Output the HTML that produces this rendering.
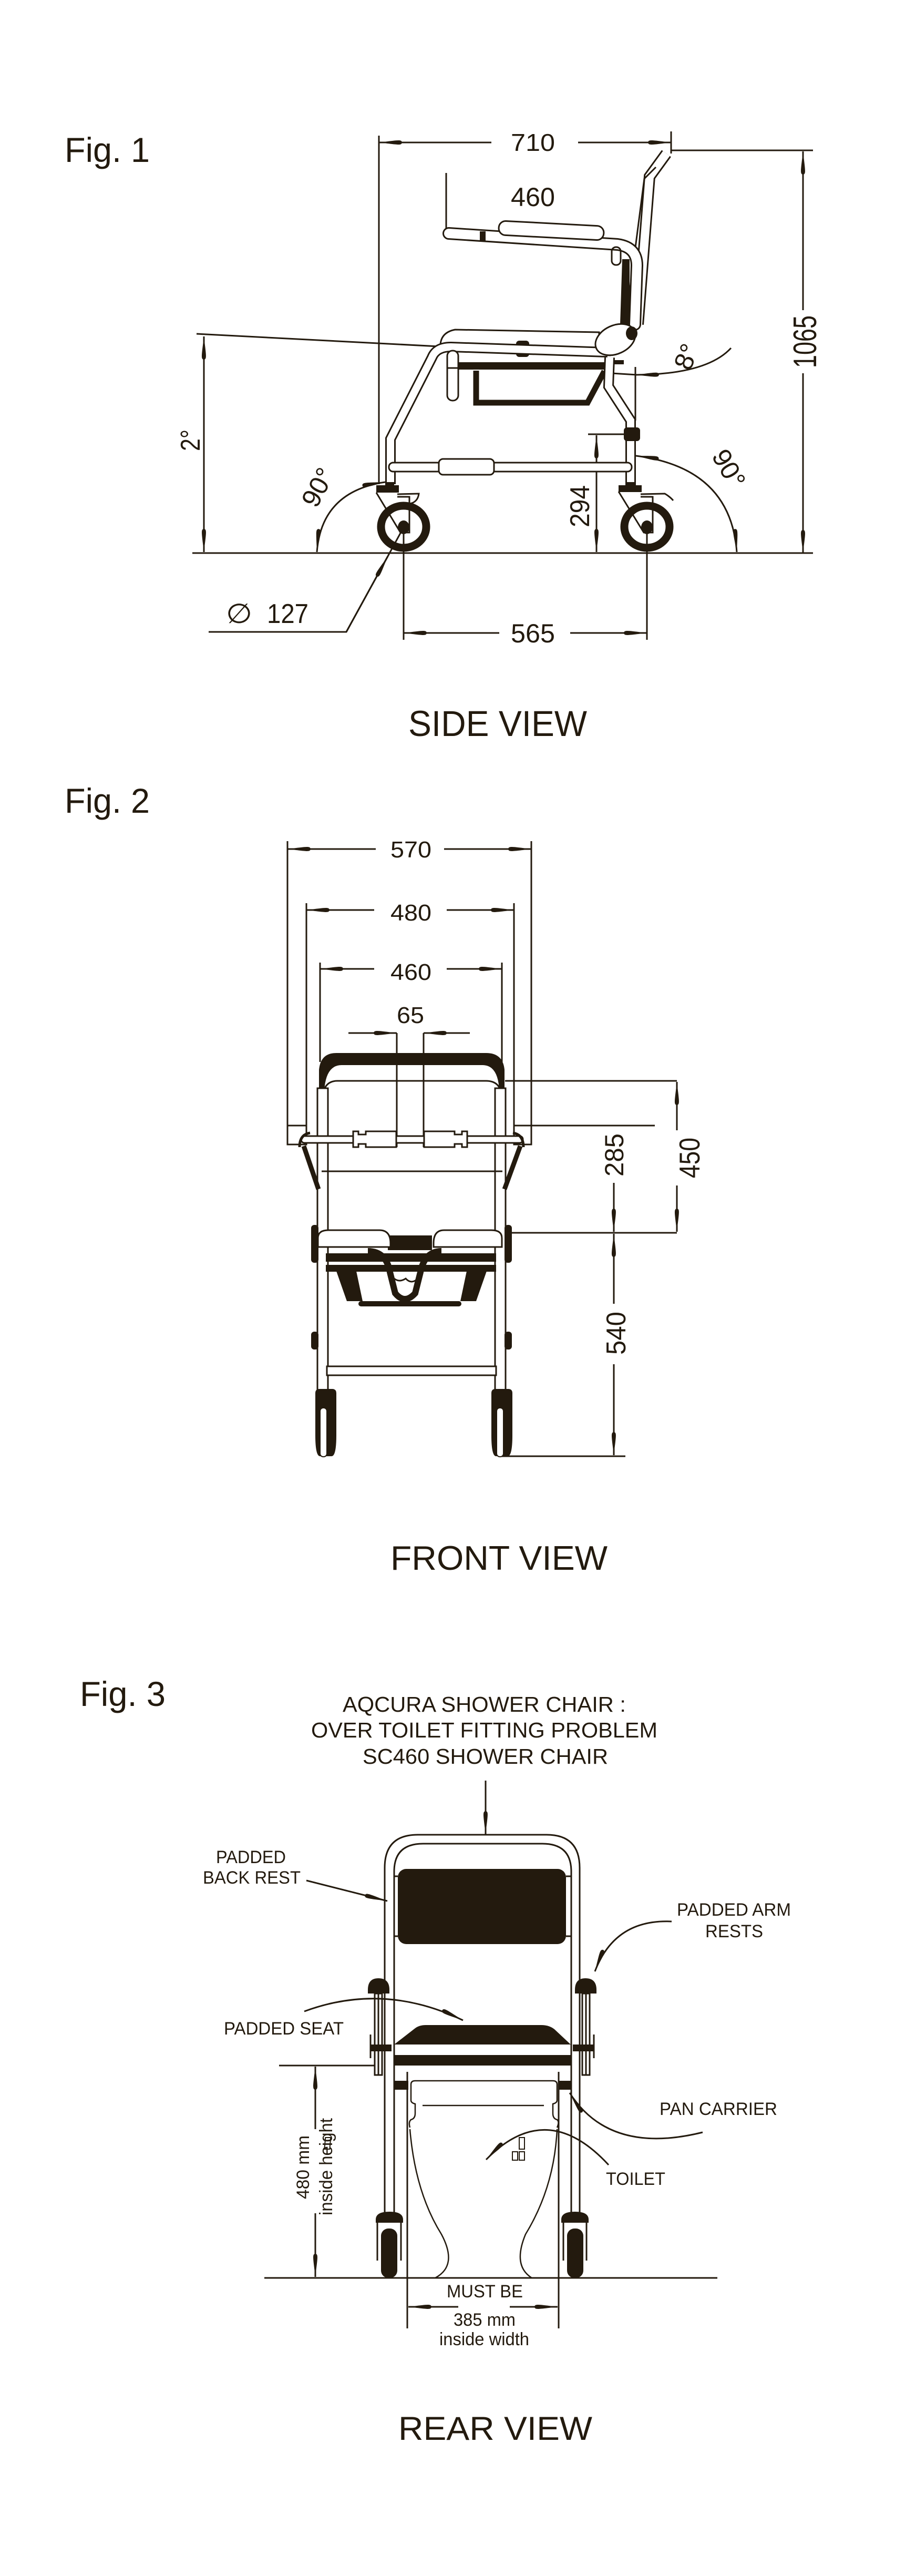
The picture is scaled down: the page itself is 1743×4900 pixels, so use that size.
<!DOCTYPE html>
<html><head><meta charset="utf-8"><style>
html,body{margin:0;padding:0;background:#fff}
svg{display:block}
text{font-family:"Liberation Sans",Arial,sans-serif;fill:#231a0e}
</style></head><body>
<svg width="1743" height="4900" viewBox="0 0 1743 4900" xmlns="http://www.w3.org/2000/svg">
<defs>
<marker id="a" viewBox="0 0 44 12" refX="44" refY="6" markerWidth="44" markerHeight="12" markerUnits="userSpaceOnUse" orient="auto-start-reverse">
<path d="M0,6 C1,0 6,1.5 44,6 C6,10.5 1,12 0,6z" fill="#231a0e"/>
</marker>
</defs>
<g stroke="#231a0e" stroke-width="3" fill="none" stroke-linecap="butt">

<!-- ================= FIG 1 ================= -->
<!-- 710 -->
<line x1="935" y1="271" x2="721" y2="271" marker-end="url(#a)"/>
<line x1="1100" y1="271" x2="1277" y2="271" marker-end="url(#a)"/>
<line x1="721" y1="258" x2="721" y2="921"/>
<line x1="1277" y1="250" x2="1277" y2="292"/>
<!-- 460 ext -->
<line x1="849" y1="329" x2="849" y2="442"/>
<!-- 1065 -->
<line x1="1277" y1="286" x2="1547" y2="286"/>
<line x1="1528" y1="590" x2="1528" y2="288" marker-end="url(#a)"/>
<line x1="1528" y1="710" x2="1528" y2="1052" marker-end="url(#a)"/>
<!-- ground -->
<line x1="366" y1="1052" x2="1547" y2="1052"/>
<!-- 2 deg -->
<line x1="388" y1="840" x2="388" y2="640" marker-end="url(#a)"/>
<line x1="388" y1="840" x2="388" y2="1050" marker-end="url(#a)"/>
<line x1="374" y1="635" x2="1162" y2="676"/>
<!-- 294 -->
<line x1="1119" y1="826" x2="1202" y2="826"/>
<line x1="1135" y1="960" x2="1135" y2="828" marker-end="url(#a)"/>
<line x1="1135" y1="960" x2="1135" y2="1050" marker-end="url(#a)"/>
<!-- 565 -->
<line x1="950" y1="1204" x2="768" y2="1204" marker-end="url(#a)"/>
<line x1="1085" y1="1204" x2="1231" y2="1204" marker-end="url(#a)"/>
<line x1="768" y1="1003" x2="768" y2="1217"/>
<line x1="1231" y1="1003" x2="1231" y2="1217"/>
<!-- dia 127 leader -->
<polyline points="397,1202 659,1202 738,1058"/>
<line x1="659" y1="1202" x2="738" y2="1058" marker-end="url(#a)"/>
<line x1="738" y1="1058" x2="768" y2="1003"/>
<!-- 90 left -->
<path d="M603,1050 Q612,935 733,917" marker-start="url(#a)" marker-end="url(#a)"/>
<!-- 90 right -->
<path d="M1210,867 Q1390,890 1402,1050" marker-start="url(#a)" marker-end="url(#a)"/>
<!-- 8 deg -->
<path d="M1391,662 Q1345,712 1210,713" marker-end="url(#a)"/>
<line x1="1164" y1="710" x2="1212" y2="713"/>
<line x1="1209" y1="698" x2="1209" y2="800"/>

<!-- chair side -->
<!-- backrest tube -->
<path d="M1268,292 L1236,336 L1214,617" stroke-width="22"/>
<path d="M1268,292 L1236,336 L1214,617" stroke="#fff" stroke-width="16"/>
<path d="M1248,318 L1226,340 L1190,617" stroke-width="3"/>
<polygon points="1184,493 1198,493 1198,617 1180,617" fill="#231a0e" stroke="none"/>
<!-- armrest tube -->
<path d="M854,444 L1175,465 Q1212,470 1212,505 L1208,617" stroke-width="24" stroke-linecap="round"/>
<path d="M854,444 L1175,465 Q1212,470 1212,505 L1208,617" stroke="#fff" stroke-width="18" stroke-linecap="round"/>
<rect x="1164" y="470" width="17" height="34" rx="8"/>
<rect x="913" y="440" width="11" height="20" fill="#231a0e" stroke="none"/>
<rect x="949" y="425" width="200" height="27" rx="13" transform="rotate(3 1049 438)" fill="#fff"/>
<!-- seat -->
<path d="M838,655 Q840,632 866,627 L1140,632 L1140,665 L838,655z" fill="#fff"/>
<rect x="982" y="648" width="25" height="31" rx="6" fill="#231a0e" stroke="none"/>
<!-- front leg -->
<path d="M1156,670 L858,660 Q830,660 822,680 L743,835 L743,921" stroke-width="20"/>
<path d="M1156,670 L858,660 Q830,660 822,680 L743,835 L743,921" stroke="#fff" stroke-width="14"/>
<rect x="851" y="667" width="21" height="95" rx="10" fill="#fff"/>
<line x1="851" y1="700" x2="872" y2="700"/>
<!-- pan -->
<rect x="872" y="689" width="284" height="14" fill="#231a0e" stroke="none"/>
<rect x="1154" y="685" width="33" height="8" fill="#231a0e" stroke="none"/>
<path d="M906,705 L906,766 L1118,766 L1150,706" stroke-width="11"/>
<!-- rear leg -->
<path d="M1160,680 L1158,735 L1200,800 L1200,925" stroke-width="20"/>
<path d="M1160,680 L1158,735 L1200,800 L1200,925" stroke="#fff" stroke-width="14"/>
<ellipse cx="1171" cy="646" rx="40" ry="27" transform="rotate(-25 1171 646)" fill="#fff"/>
<ellipse cx="1202" cy="634" rx="11" ry="13" fill="#231a0e" stroke="none"/>
<rect x="1187" y="813" width="31" height="26" rx="6" fill="#231a0e" stroke="none"/>
<!-- crossbar -->
<rect x="740" y="880" width="462" height="17" rx="8" fill="#fff"/>
<rect x="835" y="873" width="105" height="30" rx="8" fill="#fff"/>
<!-- casters -->
<rect x="716" y="923" width="43" height="14" fill="#231a0e" stroke="none"/>
<rect x="733" y="917" width="17" height="6" fill="#231a0e" stroke="none"/>
<rect x="1177" y="923" width="44" height="13" fill="#231a0e" stroke="none"/>
<rect x="1193" y="917" width="17" height="6" fill="#231a0e" stroke="none"/>
<ellipse cx="768" cy="1002" rx="43" ry="40" stroke-width="15"/>
<ellipse cx="1231" cy="1002" rx="43" ry="40" stroke-width="15"/>
<polyline points="716,937 762,1013 779,1013 779,945 756,945"/>
<path d="M756,940 L797,939 Q795,955 780,958"/>
<polyline points="1177,935 1225,1013 1242,1013 1242,945 1219,945"/>
<path d="M1219,940 L1265,939 Q1275,945 1281,952"/>
<ellipse cx="768" cy="1003" rx="11" ry="13" fill="#231a0e" stroke="none"/>
<ellipse cx="1231" cy="1003" rx="11" ry="13" fill="#231a0e" stroke="none"/>

<!-- ================= FIG 2 ================= -->
<line x1="715" y1="1615" x2="547" y2="1615" marker-end="url(#a)"/>
<line x1="845" y1="1615" x2="1011" y2="1615" marker-end="url(#a)"/>
<line x1="712" y1="1731" x2="583" y2="1731" marker-end="url(#a)"/>
<line x1="850" y1="1731" x2="978" y2="1731" marker-end="url(#a)"/>
<line x1="712" y1="1843" x2="609" y2="1843" marker-end="url(#a)"/>
<line x1="850" y1="1843" x2="955" y2="1843" marker-end="url(#a)"/>
<line x1="663" y1="1965" x2="755" y2="1965" marker-end="url(#a)"/>
<line x1="894" y1="1965" x2="806" y2="1965" marker-end="url(#a)"/>
<line x1="547" y1="1600" x2="547" y2="2177"/>
<line x1="1011" y1="1600" x2="1011" y2="2177"/>
<line x1="583" y1="1718" x2="583" y2="2162"/>
<line x1="978" y1="1718" x2="978" y2="2162"/>
<line x1="609" y1="1831" x2="609" y2="2020"/>
<line x1="955" y1="1831" x2="955" y2="2020"/>
<line x1="755" y1="1965" x2="755" y2="2182"/>
<line x1="806" y1="1965" x2="806" y2="2182"/>
<rect x="547" y="2141" width="36" height="36"/>
<rect x="978" y="2141" width="33" height="36"/>
<!-- dims right -->
<line x1="961" y1="2056" x2="1288" y2="2056"/>
<line x1="978" y1="2141" x2="1246" y2="2141"/>
<line x1="961" y1="2345" x2="1288" y2="2345"/>
<line x1="950" y1="2770" x2="1190" y2="2770"/>
<line x1="1288" y1="2150" x2="1288" y2="2058" marker-end="url(#a)"/>
<line x1="1288" y1="2255" x2="1288" y2="2343" marker-end="url(#a)"/>
<line x1="1168" y1="2250" x2="1168" y2="2343" marker-end="url(#a)"/>
<line x1="1168" y1="2480" x2="1168" y2="2347" marker-end="url(#a)"/>
<line x1="1168" y1="2595" x2="1168" y2="2768" marker-end="url(#a)"/>
<!-- backrest arch -->
<path d="M607,2075 L607,2035 Q610,2003 640,2003 L925,2003 Q957,2003 960,2035 L960,2075 L950,2075 Q948,2026 918,2026 L650,2026 Q620,2026 617,2075z" fill="#231a0e" stroke="none"/>
<path d="M614,2085 Q617,2056 642,2056 L925,2056 Q952,2056 955,2085"/>
<!-- legs -->
<rect x="604" y="2070" width="20" height="575" fill="#fff"/>
<rect x="942" y="2070" width="20" height="575" fill="#fff"/>
<line x1="612" y1="2228" x2="956" y2="2228"/>
<!-- arm braces -->
<path d="M578,2180 L606,2262" stroke-width="9"/>
<path d="M990,2180 L960,2262" stroke-width="9"/>
<!-- arm tube -->
<rect x="573" y="2161" width="422" height="13" rx="6" fill="#fff"/>
<path d="M570,2182 Q570,2158 590,2155" stroke-width="5"/>
<path d="M996,2182 Q996,2158 976,2155" stroke-width="5"/>
<path d="M672,2152 h10 v6 h14 v-6 h58 v30 h-58 v-6 h-14 v6 h-10z" fill="#fff"/>
<path d="M889,2152 h-10 v6 h-14 v-6 h-58 v30 h58 v-6 h14 v6 h10z" fill="#fff"/>
<!-- knobs -->
<rect x="592" y="2330" width="14" height="72" rx="6" fill="#231a0e" stroke="none"/>
<rect x="960" y="2330" width="14" height="72" rx="6" fill="#231a0e" stroke="none"/>
<rect x="592" y="2533" width="14" height="34" rx="6" fill="#231a0e" stroke="none"/>
<rect x="960" y="2533" width="14" height="34" rx="6" fill="#231a0e" stroke="none"/>
<!-- seat -->
<rect x="738" y="2350" width="84" height="28" fill="#231a0e" stroke="none"/>
<rect x="620" y="2384" width="324" height="16" fill="#231a0e" stroke="none"/>
<rect x="620" y="2406" width="324" height="13" fill="#231a0e" stroke="none"/>
<path d="M640,2418 L660,2475 L690,2475 L678,2418z" fill="#231a0e" stroke="none"/>
<path d="M926,2418 L906,2475 L876,2475 L888,2418z" fill="#231a0e" stroke="none"/>
<path d="M700,2380 Q735,2380 742,2420 L752,2460 Q770,2482 790,2460 L800,2420 Q808,2380 840,2380" stroke-width="12"/>
<path d="M750,2432 Q760,2440 772,2432 Q783,2444 795,2432"/>
<rect x="682" y="2475" width="196" height="10" rx="5" fill="#231a0e" stroke="none"/>
<path d="M605,2372 L605,2355 Q605,2340 625,2340 L722,2340 Q743,2340 743,2365 L743,2372z" fill="#fff"/>
<path d="M955,2372 L955,2355 Q955,2340 935,2340 L845,2340 Q825,2340 825,2365 L825,2372z" fill="#fff"/>
<!-- crossbar -->
<rect x="622" y="2599" width="322" height="17" fill="#fff"/>
<!-- casters -->
<path d="M600,2642 h32 q8,0 8,8 v80 q0,40 -9,40 h-22 q-9,0 -9,-40 v-80 q0,-8 8,-8z" fill="#231a0e" stroke="none"/>
<path d="M935,2642 h32 q8,0 8,8 v80 q0,40 -9,40 h-22 q-9,0 -9,-40 v-80 q0,-8 8,-8z" fill="#231a0e" stroke="none"/>
<rect x="609" y="2678" width="13" height="93" rx="6" fill="#fff" stroke-width="2"/>
<rect x="945" y="2678" width="13" height="93" rx="6" fill="#fff" stroke-width="2"/>

<!-- ================= FIG 3 ================= -->
<line x1="924" y1="3387" x2="924" y2="3489" marker-end="url(#a)"/>
<!-- frame -->
<path d="M732,4208 L732,3553 Q732,3490 795,3490 L1040,3490 Q1103,3490 1103,3553 L1103,4208"/>
<path d="M750,4208 L750,3560 Q750,3507 805,3507 L1032,3507 Q1087,3507 1087,3560 L1087,4208"/>
<rect x="757" y="3555" width="320" height="143" rx="16" fill="#231a0e" stroke="none"/>
<line x1="750" y1="3569" x2="757" y2="3569"/><line x1="750" y1="3683" x2="757" y2="3683"/>
<line x1="1077" y1="3569" x2="1087" y2="3569"/><line x1="1077" y1="3683" x2="1087" y2="3683"/>
<!-- arm posts -->
<rect x="713" y="3792" width="14" height="155" fill="#fff"/>
<rect x="1108" y="3792" width="14" height="155" fill="#fff"/>
<line x1="720" y1="3792" x2="720" y2="3947"/><line x1="1115" y1="3792" x2="1115" y2="3947"/>
<path d="M700,3792 L700,3785 Q700,3763 720,3763 Q741,3763 741,3785 L741,3792z" fill="#231a0e" stroke="none"/>
<path d="M1094,3792 L1094,3785 Q1094,3763 1114,3763 Q1135,3763 1135,3785 L1135,3792z" fill="#231a0e" stroke="none"/>
<rect x="705" y="3889" width="40" height="13" fill="#231a0e" stroke="none"/>
<rect x="1090" y="3889" width="40" height="13" fill="#231a0e" stroke="none"/>
<line x1="705" y1="3870" x2="705" y2="3915"/><line x1="1130" y1="3870" x2="1130" y2="3915"/>
<!-- seat -->
<path d="M750,3889 L790,3858 Q798,3852 810,3852 L1030,3852 Q1045,3852 1055,3860 L1086,3889z" fill="#231a0e" stroke="none"/>
<rect x="750" y="3909" width="336" height="20" fill="#231a0e" stroke="none"/>
<rect x="750" y="3958" width="27" height="17" fill="#231a0e" stroke="none"/>
<rect x="1063" y="3958" width="23" height="17" fill="#231a0e" stroke="none"/>
<!-- pan -->
<path d="M782,3965 Q782,3958 790,3958 L1052,3958 Q1060,3958 1060,3965 L1060,3995 Q1060,4000 1052,4002 L1052,4020 Q1052,4030 1060,4032 Q1065,4036 1060,4047" stroke-width="2.5"/>
<path d="M782,3965 L782,3995 Q782,4000 790,4002 L790,4020 Q790,4030 782,4032 Q777,4036 780,4047" stroke-width="2.5"/>
<line x1="804" y1="4005" x2="1035" y2="4005" stroke-width="2.5"/>
<!-- toilet -->
<path d="M780,4050 Q790,4170 840,4250 Q872,4310 828,4333" stroke-width="2.5"/>
<path d="M1060,4050 Q1055,4160 1000,4250 Q975,4310 1012,4333" stroke-width="2.5"/>
<g stroke-width="2"><rect x="975" y="4066" width="10" height="22" transform="skewX(-5)"/><rect x="988" y="4066" width="10" height="22"/><rect x="975" y="4093" width="10" height="16"/><rect x="988" y="4093" width="10" height="16"/></g>
<!-- casters -->
<path d="M715,4228 L715,4222 Q715,4207 741,4207 Q767,4207 767,4222 L767,4228z" fill="#231a0e" stroke="none"/>
<path d="M1068,4228 L1068,4222 Q1068,4207 1094,4207 Q1120,4207 1120,4222 L1120,4228z" fill="#231a0e" stroke="none"/>
<rect x="725" y="4239" width="31" height="94" rx="14" fill="#231a0e" stroke="none"/>
<rect x="1079" y="4239" width="31" height="94" rx="14" fill="#231a0e" stroke="none"/>
<polyline points="718,4228 718,4300"/><polyline points="763,4228 763,4300"/>
<polyline points="1072,4228 1072,4300"/><polyline points="1116,4228 1116,4300"/>
<line x1="775" y1="3941" x2="775" y2="4429"/>
<line x1="1063" y1="3941" x2="1063" y2="4429"/>
<!-- ground -->
<line x1="503" y1="4333" x2="1365" y2="4333"/>
<!-- 480 -->
<line x1="531" y1="3929" x2="712" y2="3929"/>
<line x1="600" y1="4050" x2="600" y2="3931" marker-end="url(#a)"/>
<line x1="600" y1="4210" x2="600" y2="4331" marker-end="url(#a)"/>
<!-- 385 -->
<line x1="872" y1="4388" x2="777" y2="4388" marker-end="url(#a)"/>
<line x1="970" y1="4388" x2="1061" y2="4388" marker-end="url(#a)"/>
<!-- leaders -->
<line x1="583" y1="3577" x2="737" y2="3616" marker-end="url(#a)"/>
<path d="M1278,3655 Q1170,3650 1132,3750" marker-end="url(#a)"/>
<path d="M579,3826 Q730,3770 881,3843" marker-end="url(#a)"/>
<path d="M1337,4056 Q1160,4100 1084,3981" marker-end="url(#a)"/>
<path d="M1158,4118 Q1040,3990 925,4108" marker-end="url(#a)"/>
</g>

<!-- ================= TEXT ================= -->
<text x="123" y="308" font-size="66" textLength="162" lengthAdjust="spacingAndGlyphs">Fig. 1</text>
<text x="972" y="287" font-size="46" textLength="84" lengthAdjust="spacingAndGlyphs">710</text>
<text x="972" y="392" font-size="50" textLength="84" lengthAdjust="spacingAndGlyphs">460</text>
<text transform="translate(1553,700) rotate(-90)" font-size="62" textLength="100" lengthAdjust="spacingAndGlyphs">1065</text>
<text transform="translate(380,858) rotate(-90)" font-size="52" textLength="41" lengthAdjust="spacingAndGlyphs">2°</text>
<text transform="translate(1121,1003) rotate(-90)" font-size="52" textLength="80" lengthAdjust="spacingAndGlyphs">294</text>
<text x="972" y="1222" font-size="50" textLength="84" lengthAdjust="spacingAndGlyphs">565</text>
<text x="430" y="1185" font-size="52" textLength="50" lengthAdjust="spacingAndGlyphs">∅</text>
<text x="508" y="1185" font-size="52" textLength="79" lengthAdjust="spacingAndGlyphs">127</text>
<text transform="translate(620,935) rotate(-62)" font-size="50" text-anchor="middle">90°</text>
<text transform="translate(1372,900) rotate(60)" font-size="50" text-anchor="middle">90°</text>
<text transform="translate(1322,685) rotate(-68)" font-size="50" text-anchor="middle">8°</text>
<text x="777" y="1400" font-size="69" textLength="340" lengthAdjust="spacingAndGlyphs">SIDE VIEW</text>

<text x="123" y="1546" font-size="66" textLength="162" lengthAdjust="spacingAndGlyphs">Fig. 2</text>
<text x="743" y="1631" font-size="44" textLength="78" lengthAdjust="spacingAndGlyphs">570</text>
<text x="743" y="1751" font-size="44" textLength="78" lengthAdjust="spacingAndGlyphs">480</text>
<text x="743" y="1864" font-size="44" textLength="78" lengthAdjust="spacingAndGlyphs">460</text>
<text x="755" y="1946" font-size="44" textLength="52" lengthAdjust="spacingAndGlyphs">65</text>
<text transform="translate(1331,2241) rotate(-90)" font-size="55" textLength="77" lengthAdjust="spacingAndGlyphs">450</text>
<text transform="translate(1186,2238) rotate(-90)" font-size="50" textLength="82" lengthAdjust="spacingAndGlyphs">285</text>
<text transform="translate(1190,2577) rotate(-90)" font-size="52" textLength="82" lengthAdjust="spacingAndGlyphs">540</text>
<text x="743" y="2986" font-size="65" textLength="413" lengthAdjust="spacingAndGlyphs">FRONT VIEW</text>

<text x="152" y="3245" font-size="66" textLength="163" lengthAdjust="spacingAndGlyphs">Fig. 3</text>
<text x="652" y="3256" font-size="41" textLength="539" lengthAdjust="spacingAndGlyphs">AQCURA SHOWER CHAIR :</text>
<text x="592" y="3305" font-size="41" textLength="659" lengthAdjust="spacingAndGlyphs">OVER TOILET FITTING PROBLEM</text>
<text x="690" y="3355" font-size="41" textLength="467" lengthAdjust="spacingAndGlyphs">SC460 SHOWER CHAIR</text>
<text x="411" y="3544" font-size="34" textLength="133" lengthAdjust="spacingAndGlyphs">PADDED</text>
<text x="386" y="3583" font-size="34" textLength="186" lengthAdjust="spacingAndGlyphs">BACK REST</text>
<text x="1288" y="3644" font-size="34" textLength="217" lengthAdjust="spacingAndGlyphs">PADDED ARM</text>
<text x="1342" y="3685" font-size="34" textLength="110" lengthAdjust="spacingAndGlyphs">RESTS</text>
<text x="426" y="3870" font-size="34" textLength="228" lengthAdjust="spacingAndGlyphs">PADDED SEAT</text>
<text x="1255" y="4023" font-size="34" textLength="224" lengthAdjust="spacingAndGlyphs">PAN CARRIER</text>
<text x="1153" y="4156" font-size="34" textLength="113" lengthAdjust="spacingAndGlyphs">TOILET</text>
<text transform="translate(588,4183) rotate(-90)" font-size="34" textLength="121" lengthAdjust="spacingAndGlyphs">480 mm</text>
<text transform="translate(632,4214) rotate(-90)" font-size="34" textLength="185" lengthAdjust="spacingAndGlyphs">inside height</text>
<text x="850" y="4370" font-size="34" textLength="145" lengthAdjust="spacingAndGlyphs">MUST BE</text>
<text x="863" y="4424" font-size="34" textLength="118" lengthAdjust="spacingAndGlyphs">385 mm</text>
<text x="836" y="4461" font-size="34" textLength="171" lengthAdjust="spacingAndGlyphs">inside width</text>
<text x="758" y="4641" font-size="63" textLength="369" lengthAdjust="spacingAndGlyphs">REAR VIEW</text>
</svg>
</body></html>
